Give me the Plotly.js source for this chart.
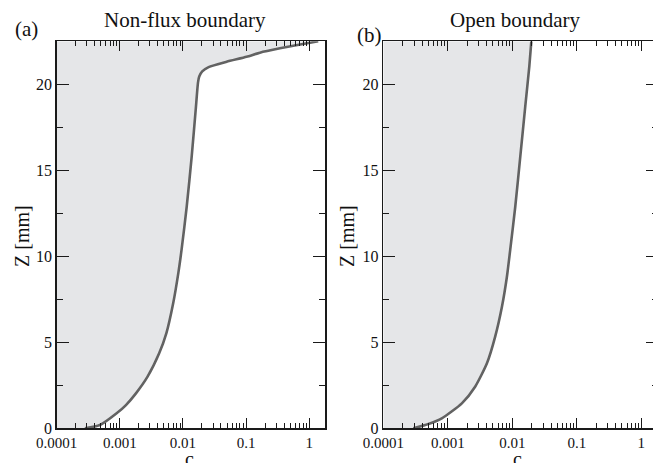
<!DOCTYPE html>
<html>
<head>
<meta charset="utf-8">
<script src="https://cdn.plot.ly/plotly-3.0.1.min.js"></script>
<style>
html, body { margin: 0; padding: 0; overflow: hidden; background: #fff; }
#chart { width: 662px; height: 463px; }
</style>
</head>
<body>
<div id="chart"></div>
<script>
// ---- data ----
// Panel (a): Non-flux boundary
const zA = [0, 0.19, 0.87, 1.35, 2.03, 3.0, 4.36, 5.52, 7.27, 9.01, 10.37, 12.88, 15.79, 18.70, 20.1, 20.45, 20.75, 21.0, 21.31, 21.6, 21.84, 22.09, 22.42, 22.5];
const cA = [2.8e-4, 4.85e-4, 8.9e-4, 1.25e-3, 1.8e-3, 2.75e-3, 4.2e-3, 5.45e-3, 7.0e-3, 8.43e-3, 9.5e-3, 0.01146, 0.01375, 0.01607, 0.0173, 0.0181, 0.0202, 0.0255, 0.0492, 0.102, 0.166, 0.344, 1.03, 1.39];
// Panel (b): Open boundary
const zB = [0, 0.25, 0.58, 1.45, 2.42, 3.78, 5.33, 7.07, 8.81, 10.37, 12.88, 15.79, 18.70, 21.02, 22.5];
const cB = [2.92e-4, 5.0e-4, 8.07e-4, 1.65e-3, 2.65e-3, 4.04e-3, 5.42e-3, 6.9e-3, 8.24e-3, 9.27e-3, 0.0111, 0.01328, 0.01585, 0.0183, 0.0197];

const xTickVals = [0.0001, 0.001, 0.01, 0.1, 1];
const xTickText = ['0.0001', '0.001', '0.01', '0.1', '1'];
const panelTitles = ['Non-flux boundary', 'Open boundary'];
const panelLabels = ['(a)', '(b)'];
const xTitle = 'c';
const yTitle = 'Z [mm]';

const X_MIN = 0.0001;
const X_RANGE_LOG = [-4, 0.25];
const Z_RANGE = [0, 22.5];

// minor tick positions (2..9 within each decade)
const xMinor = [];
for (let e = -4; e <= 0; e++) for (let m = 2; m <= 9; m++) xMinor.push(m * Math.pow(10, e));

const W = 662, H = 463;
const FILL = '#e5e6e8', LINE = '#626262';
const SERIF = "Liberation Serif";

function panel(c, z, xa, ya) {
  const base = { x: z.map(() => X_MIN), y: z, xaxis: xa, yaxis: ya, mode: 'lines',
    line: { width: 0, color: 'rgba(0,0,0,0)' }, hoverinfo: 'skip', showlegend: false };
  const curve = { x: c, y: z, xaxis: xa, yaxis: ya, mode: 'lines', fill: 'tonextx', fillcolor: FILL,
    line: { color: LINE, width: 2.6, shape: 'spline', smoothing: 0.6 }, showlegend: false };
  return [base, curve];
}
const data = [...panel(cA, zA, 'x', 'y'), ...panel(cB, zB, 'x2', 'y2')];

const axCol = '#1a1a1a';
function xAxis(domain, anchor) {
  return {
    domain: domain, anchor: anchor, type: 'log', range: X_RANGE_LOG,
    tickmode: 'array', tickvals: xTickVals, ticktext: xTickText,
    ticks: 'inside', ticklen: 10, tickwidth: 1, tickcolor: axCol,
    minor: { tickmode: 'array', tickvals: xMinor, ticks: 'inside', ticklen: 5, tickwidth: 1, tickcolor: axCol, showgrid: false },
    showline: true, linecolor: axCol, linewidth: 1.5, mirror: 'allticks',
    showgrid: false, zeroline: false, automargin: false,
    tickfont: { size: 15, color: '#111', family: SERIF }
  };
}
function yAxis(domain, anchor) {
  return {
    domain: domain, anchor: anchor, range: Z_RANGE, tick0: 0, dtick: 5,
    ticks: 'inside', ticklen: 12, tickwidth: 1, tickcolor: axCol,
    minor: { dtick: 2.5, ticks: 'inside', ticklen: 6, tickwidth: 1, tickcolor: axCol, showgrid: false },
    showline: true, linecolor: axCol, linewidth: 1.5, mirror: 'allticks',
    showgrid: false, zeroline: false, automargin: false,
    tickfont: { size: 16, color: '#111', family: SERIF }
  };
}

const yDom = [1 - 428.3 / H, 1 - 41.3 / H];
function ann(text, px, py, size, extra) {
  return Object.assign({ text: text, x: px / W, y: 1 - py / H, xref: 'paper', yref: 'paper', xanchor: 'center', yanchor: 'middle',
    showarrow: false, font: { size: size, family: SERIF, color: '#111' } }, extra || {});
}
const layout = {
  width: W, height: H,
  margin: { l: 0, r: 0, t: 0, b: 0 },
  paper_bgcolor: '#fff', plot_bgcolor: '#fff',
  font: { family: SERIF, color: '#111' },
  showlegend: false,
  xaxis: xAxis([56.7 / W, 325 / W], 'y'),
  yaxis: yAxis(yDom, 'x'),
  xaxis2: xAxis([383.3 / W, 657.5 / W], 'y2'),
  yaxis2: yAxis(yDom, 'x2'),
  annotations: [
    ann(panelTitles[0], 185, 20, 21),
    ann(panelTitles[1], 515, 20, 21),
    ann(panelLabels[0], 26.5, 29.5, 21),
    ann(panelLabels[1], 369, 35.5, 21),
    ann(xTitle, 189, 446, 20, { yanchor: 'top' }),
    ann(xTitle, 517, 446, 20, { yanchor: 'top' }),
    ann(yTitle, 22, 236, 20, { textangle: -90 }),
    ann(yTitle, 347, 236, 20, { textangle: -90 })
  ]
};

Plotly.newPlot('chart', data, layout, { displayModeBar: false, staticPlot: true });
</script>
</body>
</html>
